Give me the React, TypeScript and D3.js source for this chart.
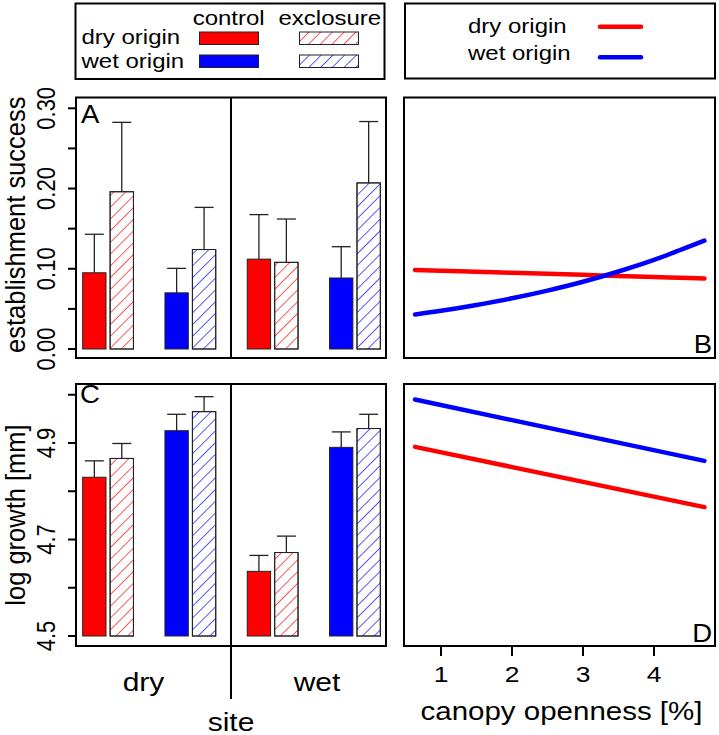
import React from "react";
import * as d3 from "d3";

// ---------- data ----------
const groupSite = ["dry", "dry", "wet", "wet"];
const groupOrigin = ["dry", "wet", "dry", "wet"];
const treatments = ["control", "exclosure"];
const siteLabels = ["dry", "wet"];

// panel A: establishment success (bar top, upper error end)
const estControl = [0.095, 0.07, 0.112, 0.0885];
const estControlUpper = [0.143, 0.1005, 0.1675, 0.1275];
const estExcl = [0.196, 0.124, 0.108, 0.207];
const estExclUpper = [0.2825, 0.1765, 0.162, 0.2835];

// panel C: log growth
const growthControl = [4.829, 4.9255, 4.634, 4.891];
const growthControlUpper = [4.863, 4.9595, 4.667, 4.923];
const growthExcl = [4.868, 4.965, 4.673, 4.93];
const growthExclUpper = [4.899, 4.996, 4.707, 4.9595];

// panel B: establishment vs canopy openness
const canopyB = [0.634, 1, 1.5, 2, 2.5, 3, 3.5, 4, 4.5, 4.71];
const estDryOrigin = [0.0985, 0.0976, 0.0963, 0.095, 0.0937, 0.0924, 0.0911, 0.0898, 0.0885, 0.088];
const estWetOrigin = [0.043, 0.0476, 0.0549, 0.0632, 0.0728, 0.0838, 0.0966, 0.111, 0.128, 0.135];

// panel D: growth vs canopy openness
const canopyD = [0.634, 4.71];
const growthDryOrigin = [4.892, 4.767];
const growthWetOrigin = [4.99, 4.863];

const estTicks = [0, 0.05, 0.1, 0.15, 0.2, 0.25, 0.3];
const estTickLabels = ["0.00", "", "0.10", "", "0.20", "", "0.30"];
const growthTicks = [4.5, 4.6, 4.7, 4.8, 4.9, 5.0];
const growthTickLabels = ["4.5", "", "4.7", "", "4.9", ""];
const canopyTicks = [1, 2, 3, 4];

const RED = "#ff0000";
const BLUE = "#0000ff";
const FONT = "'Liberation Sans', Arial, Helvetica, sans-serif";

// ---------- layout ----------
const L = { x0: 76, x1: 386 };
const R = { x0: 404, x1: 715 };
const rowA = { y0: 97.5, y1: 358 };
const rowC = { y0: 384, y1: 646 };

const yEst = d3.scaleLinear().domain([0, 0.3]).range([349, 108.3]);
const yGrowth = d3.scaleLinear().domain([4.5, 5.0]).range([636, 394.75]);
const xCanopy = d3.scaleLinear().domain([1, 4]).range([441, 654]);

const xGroup = d3
  .scaleBand<number>()
  .domain([0, 1, 2, 3])
  .range([L.x0 + 0.5, L.x1 + 0.5])
  .paddingInner(0.383)
  .paddingOuter(0.075);
const xTreat = d3
  .scaleBand<string>()
  .domain(treatments)
  .range([0, xGroup.bandwidth()])
  .paddingInner(0.15);

function T({ x, y, size, sx = 1.2, anchor = "start", rot = 0, children }: any) {
  return (
    <text
      transform={`translate(${x},${y}) scale(${sx},1)${rot ? ` rotate(${rot})` : ""}`}
      fontSize={size}
      textAnchor={anchor}
      fontFamily={FONT}
      fill="#000"
    >
      {children}
    </text>
  );
}

function Bars({ y, ctrl, ctrlUp, excl, exclUp, base }: any) {
  const bw = xTreat.bandwidth();
  const items: any[] = [];
  [0, 1, 2, 3].forEach((g) => {
    const col = groupOrigin[g] === "dry" ? RED : BLUE;
    const pat = groupOrigin[g] === "dry" ? "url(#hatchRed)" : "url(#hatchBlue)";
    const vals = [ctrl[g], excl[g]];
    const ups = [ctrlUp[g], exclUp[g]];
    treatments.forEach((t, k) => {
      const x = (xGroup(g) as number) + (xTreat(t) as number);
      const top = y(vals[k]);
      const cx = x + bw / 2;
      items.push(
        <g key={`${g}-${k}`}>
          <line x1={cx} x2={cx} y1={top} y2={y(ups[k])} stroke="#222" strokeWidth={1.3} />
          <line x1={cx - 9.5} x2={cx + 9.5} y1={y(ups[k])} y2={y(ups[k])} stroke="#222" strokeWidth={1.3} />
          <rect
            x={x}
            y={top}
            width={bw}
            height={y(base) - top}
            fill={k === 0 ? col : "#fff"}
            stroke="#222"
            strokeWidth={1}
          />
          {k === 1 && <rect x={x} y={top} width={bw} height={y(base) - top} fill={pat} stroke="#222" strokeWidth={1} />}
        </g>
      );
    });
  });
  return <g>{items}</g>;
}

function YAxis({ y, ticks, labels }: any) {
  return (
    <g>
      {ticks.map((v: number, i: number) => (
        <g key={i}>
          <line x1={L.x0 - 8} x2={L.x0} y1={y(v)} y2={y(v)} stroke="#000" strokeWidth={2} />
          {labels[i] && (
            <T x={55} y={y(v)} size={22} anchor="middle" rot={-90}>
              {labels[i]}
            </T>
          )}
        </g>
      ))}
    </g>
  );
}

export default function App() {
  const lineB = d3
    .line<number>()
    .x((_, i) => xCanopy(canopyB[i]))
    .curve(d3.curveMonotoneX);
  const lineD = d3.line<number>().x((_, i) => xCanopy(canopyD[i]));
  const midL = (L.x0 + L.x1) / 2;

  return (
    <div style={{ position: "absolute", left: 0, top: 0 }}>
      <svg width={719} height={735} style={{ display: "block", background: "#fff" }}>
        <defs>
          <pattern id="hatchRed" patternUnits="userSpaceOnUse" width={8.3} height={20} patternTransform="rotate(45)">
            <line x1={0} y1={0} x2={0} y2={20} stroke={RED} strokeWidth={1.3} />
          </pattern>
          <pattern id="hatchBlue" patternUnits="userSpaceOnUse" width={8.3} height={20} patternTransform="rotate(45)">
            <line x1={0} y1={0} x2={0} y2={20} stroke={BLUE} strokeWidth={1.3} />
          </pattern>
        </defs>

        {/* Legend left */}
        <rect x={75.5} y={3.5} width={309} height={75.5} fill="none" stroke="#000" strokeWidth={2} />
        <T x={192.7} y={25} size={20}>control</T>
        <T x={278.5} y={25} size={20}>exclosure</T>
        <T x={81.5} y={44} size={20}>dry origin</T>
        <T x={81.5} y={67.5} size={20}>wet origin</T>
        <rect x={199.5} y={32} width={59} height={12.5} fill={RED} stroke="#222" strokeWidth={1} />
        <rect x={199.5} y={55} width={59} height={12.5} fill={BLUE} stroke="#222" strokeWidth={1} />
        <rect x={299.5} y={32} width={59} height={12.5} fill="url(#hatchRed)" stroke="#222" strokeWidth={1} />
        <rect x={299.5} y={55} width={59} height={12.5} fill="url(#hatchBlue)" stroke="#222" strokeWidth={1} />

        {/* Legend right */}
        <rect x={405} y={3.5} width={310} height={75} fill="none" stroke="#000" strokeWidth={2} />
        <T x={468} y={33} size={20}>dry origin</T>
        <T x={468} y={60} size={20}>wet origin</T>
        <line x1={600} x2={641} y1={26.7} y2={26.7} stroke={RED} strokeWidth={4.5} strokeLinecap="round" />
        <line x1={600} x2={641} y1={57.3} y2={57.3} stroke={BLUE} strokeWidth={4.5} strokeLinecap="round" />

        {/* Panel A */}
        <Bars y={yEst} ctrl={estControl} ctrlUp={estControlUpper} excl={estExcl} exclUp={estExclUpper} base={0} />
        <rect x={L.x0} y={rowA.y0} width={L.x1 - L.x0} height={rowA.y1 - rowA.y0} fill="none" stroke="#000" strokeWidth={2} />
        <line x1={midL} x2={midL} y1={rowA.y0} y2={rowA.y1} stroke="#000" strokeWidth={2} />
        <YAxis y={yEst} ticks={estTicks} labels={estTickLabels} />
        <T x={81} y={123} size={25} sx={1.1}>A</T>
        <T x={25} y={(rowA.y0 + rowA.y1) / 2 - 3} size={25.5} sx={1.05} anchor="middle" rot={-90}>
          establishment success
        </T>

        {/* Panel C */}
        <Bars y={yGrowth} ctrl={growthControl} ctrlUp={growthControlUpper} excl={growthExcl} exclUp={growthExclUpper} base={4.5} />
        <rect x={L.x0} y={rowC.y0} width={L.x1 - L.x0} height={rowC.y1 - rowC.y0} fill="none" stroke="#000" strokeWidth={2} />
        <line x1={midL} x2={midL} y1={rowC.y0} y2={699} stroke="#000" strokeWidth={2} />
        <YAxis y={yGrowth} ticks={growthTicks} labels={growthTickLabels} />
        <T x={80} y={403} size={25} sx={1.1}>C</T>
        <T x={25} y={(rowC.y0 + rowC.y1) / 2} size={25.5} sx={1.05} anchor="middle" rot={-90}>
          log growth [mm]
        </T>
        <T x={143.5} y={691} size={25} anchor="middle">{siteLabels[0]}</T>
        <T x={317} y={691} size={25} anchor="middle">{siteLabels[1]}</T>
        <T x={midL} y={731} size={25} anchor="middle">site</T>

        {/* Panel B */}
        <rect x={R.x0} y={rowA.y0} width={R.x1 - R.x0} height={rowA.y1 - rowA.y0} fill="none" stroke="#000" strokeWidth={2} />
        <path d={lineB.y((v) => yEst(v))(estDryOrigin) || ""} fill="none" stroke={RED} strokeWidth={4.5} strokeLinecap="round" />
        <path d={lineB.y((v) => yEst(v))(estWetOrigin) || ""} fill="none" stroke={BLUE} strokeWidth={4.5} strokeLinecap="round" />
        <T x={712} y={353} size={25} sx={1.1} anchor="end">B</T>

        {/* Panel D */}
        <rect x={R.x0} y={rowC.y0} width={R.x1 - R.x0} height={rowC.y1 - rowC.y0} fill="none" stroke="#000" strokeWidth={2} />
        <path d={lineD.y((v) => yGrowth(v))(growthDryOrigin) || ""} fill="none" stroke={RED} strokeWidth={4.5} strokeLinecap="round" />
        <path d={lineD.y((v) => yGrowth(v))(growthWetOrigin) || ""} fill="none" stroke={BLUE} strokeWidth={4.5} strokeLinecap="round" />
        <T x={712} y={641.5} size={25} sx={1.1} anchor="end">D</T>
        {canopyTicks.map((c) => (
          <g key={c}>
            <line x1={xCanopy(c)} x2={xCanopy(c)} y1={rowC.y1} y2={rowC.y1 + 10} stroke="#000" strokeWidth={2} />
            <T x={xCanopy(c)} y={681.5} size={22} anchor="middle">{String(c)}</T>
          </g>
        ))}
        <T x={(R.x0 + R.x1) / 2 + 2} y={720} size={25} sx={1.18} anchor="middle">canopy openness [%]</T>
      </svg>
    </div>
  );
}
